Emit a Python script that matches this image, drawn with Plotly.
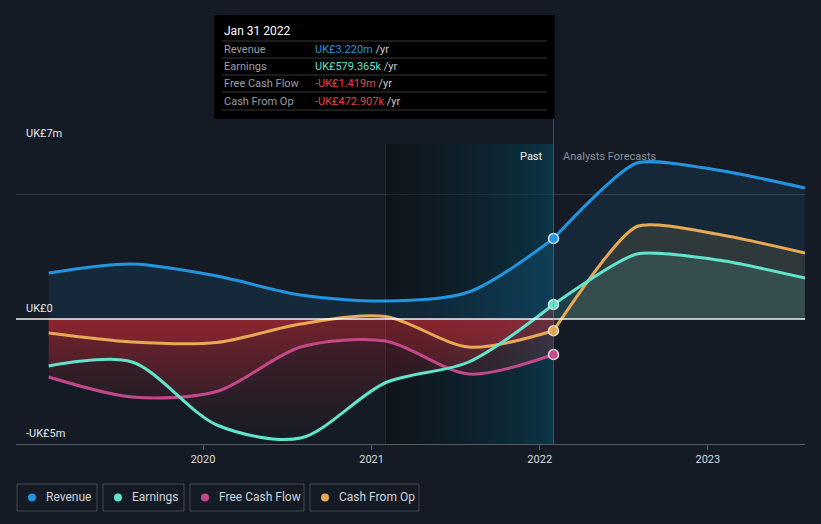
import plotly.graph_objects as go

# ---------------- data (UK£ millions) ----------------
dates_past = ["2019-01-31", "2019-07-31", "2020-01-31", "2020-07-31",
              "2021-01-31", "2021-07-31", "2022-01-31"]
dates_fc = ["2022-01-31", "2022-07-31", "2023-01-31", "2023-07-31"]

revenue_past = [1.84, 2.20, 1.72, 0.96, 0.72, 1.08, 3.22]
revenue_fc = [3.22, 6.24, 5.93, 5.24]
earnings_past = [-1.88, -1.72, -4.24, -4.76, -2.55, -1.72, 0.58]
earnings_fc = [0.58, 2.60, 2.34, 1.64]
fcf_past = [-2.32, -3.12, -2.90, -1.12, -0.88, -2.20, -1.42]
cfo_past = [-0.56, -0.92, -0.94, -0.20, 0.10, -1.12, -0.47]
cfo_fc = [-0.47, 3.70, 3.36, 2.64]

x_ticks = ["2020-01-01", "2021-01-01", "2022-01-01", "2023-01-01"]
x_tick_labels = ["2020", "2021", "2022", "2023"]
y_tick_labels = {7: "UK£7m", 0: "UK£0", -5: "-UK£5m"}

tooltip_date = "Jan 31 2022"
tooltip_rows = [("Revenue", "UK£3.220m", "#2394df"),
                ("Earnings", "UK£579.365k", "#5fe3c9"),
                ("Free Cash Flow", "-UK£1.419m", "#e8404a"),
                ("Cash From Op", "-UK£472.907k", "#e8404a")]

legend_names = ["Revenue", "Earnings", "Free Cash Flow", "Cash From Op"]

past_start = "2021-01-31"
past_end = "2022-01-31"

C_REV = "#2394df"
C_EARN = "#62e3cb"
C_FCF = "#c2488b"
C_CFO = "#e8a955"
BG = "#151b24"
SMOOTH_PAST = 0.85
SMOOTH_FC = 0.6

W, H = 821, 524
L, R, T, B = 16, 16, 144, 80


def px(x):
    return (x - L) / (W - L - R)


def py(y):
    return (H - B - y) / (H - T - B)


fig = go.Figure()

# past highlight band (gradient)
fig.add_trace(go.Scatter(
    x=[past_start, past_end, past_end, past_start, past_start],
    y=[-5, -5, 7, 7, -5], mode="none", fill="toself",
    fillgradient=dict(type="horizontal",
                      colorscale=[[0, "rgba(8,12,16,0.4)"], [1, "rgba(8,62,82,0.75)"]]),
    hoverinfo="skip", showlegend=False))

red_grad = dict(type="vertical", start=0, stop=-5,
                colorscale=[[0, "rgba(210,42,52,0.28)"], [1, "rgba(210,42,52,0.0)"]])


def add_fill(x, y, sm, **kw):
    fig.add_trace(go.Scatter(x=x, y=y, mode="none", fill="tozeroy",
                             line=dict(shape="spline", smoothing=sm),
                             hoverinfo="skip", showlegend=False, **kw))


add_fill(dates_past, revenue_past, SMOOTH_PAST, fillcolor="rgba(35,148,223,0.12)")
add_fill(dates_fc, revenue_fc, SMOOTH_FC, fillcolor="rgba(35,148,223,0.11)")
for ys in (earnings_past, fcf_past, cfo_past):
    add_fill(dates_past, ys, SMOOTH_PAST, fillgradient=red_grad)
add_fill(dates_fc, cfo_fc, SMOOTH_FC, fillcolor="rgba(232,169,85,0.12)")
add_fill(dates_fc, earnings_fc, SMOOTH_FC, fillcolor="rgba(98,227,203,0.12)")


def add_line(x, y, c, sm):
    fig.add_trace(go.Scatter(x=x, y=y, mode="lines",
                             line=dict(color=c, width=3, shape="spline", smoothing=sm),
                             hoverinfo="skip", showlegend=False))


add_line(dates_past, cfo_past, C_CFO, SMOOTH_PAST)
add_line(dates_fc, cfo_fc, C_CFO, SMOOTH_FC)
add_line(dates_past, fcf_past, C_FCF, SMOOTH_PAST)
add_line(dates_past, earnings_past, C_EARN, SMOOTH_PAST)
add_line(dates_fc, earnings_fc, C_EARN, SMOOTH_FC)
add_line(dates_past, revenue_past, C_REV, SMOOTH_PAST)
add_line(dates_fc, revenue_fc, C_REV, SMOOTH_FC)

# markers at the tooltip date
for ys, c in ((revenue_past, C_REV), (earnings_past, C_EARN),
              (fcf_past, C_FCF), (cfo_past, C_CFO)):
    fig.add_trace(go.Scatter(x=[dates_past[-1]], y=[ys[-1]], mode="markers",
                             marker=dict(size=10, color=c,
                                         line=dict(color="rgba(235,235,240,0.9)", width=1.5)),
                             hoverinfo="skip", showlegend=False))

shapes = []
annotations = []

# faint line at band start
shapes.append(dict(type="line", xref="x", yref="paper", x0=past_start, x1=past_start,
                   y0=0, y1=1, line=dict(color="rgba(255,255,255,0.07)", width=1)))
# zero line
shapes.append(dict(type="line", xref="paper", yref="y", x0=0, x1=1, y0=0, y1=0,
                   line=dict(color="rgba(255,255,255,0.95)", width=1.5), layer="above"))
# tooltip vertical line
shapes.append(dict(type="line", xref="x", yref="paper", x0=past_end, x1=past_end,
                   y0=0, y1=py(119), line=dict(color="rgba(90,150,170,0.45)", width=1)))
# tooltip box
shapes.append(dict(type="rect", xref="paper", yref="paper", x0=px(214), x1=px(555),
                   y0=py(119), y1=py(15), fillcolor="#000000", line=dict(width=0)))
for yy in (41, 58, 75, 92, 110):
    shapes.append(dict(type="line", xref="paper", yref="paper", x0=px(222), x1=px(547),
                       y0=py(yy), y1=py(yy), line=dict(color="rgba(255,255,255,0.22)", width=1)))

annotations.append(dict(x=px(222), y=py(31), xref="paper", yref="paper", text=tooltip_date,
                        showarrow=False, xanchor="left", yanchor="middle",
                        font=dict(size=12, color="#ffffff")))
for i, (lab, val, col) in enumerate(tooltip_rows):
    yy = [49, 66, 83, 101][i]
    annotations.append(dict(x=px(222), y=py(yy), xref="paper", yref="paper", text=lab,
                            showarrow=False, xanchor="left", yanchor="middle",
                            font=dict(size=11, color="#9a9da3")))
    annotations.append(dict(x=px(313), y=py(yy), xref="paper", yref="paper",
                            text=f'<span style="color:{col}">{val}</span> /yr',
                            showarrow=False, xanchor="left", yanchor="middle",
                            font=dict(size=11, color="#c9ccd1")))

# y labels
for v, t in y_tick_labels.items():
    annotations.append(dict(x=px(24), y=v, xref="paper", yref="y", text=t, showarrow=False,
                            xanchor="left", yanchor="bottom", yshift=2,
                            font=dict(size=11, color="#e6e8eb")))

# Past / forecast labels
annotations.append(dict(x=px(545), y=py(156), xref="paper", yref="paper", text="Past",
                        showarrow=False, xanchor="right", yanchor="middle",
                        font=dict(size=11, color="#f0f0f0")))
annotations.append(dict(x=px(561), y=py(156), xref="paper", yref="paper",
                        text="Analysts Forecasts", showarrow=False, xanchor="left",
                        yanchor="middle", font=dict(size=11, color="#8a8e94")))

# custom legend
boxes = [(17, 97), (103, 184), (190, 304), (310, 419)]
for (x0, x1), name, c in zip(boxes, legend_names, (C_REV, C_EARN, C_FCF, C_CFO)):
    shapes.append(dict(type="rect", xref="paper", yref="paper", x0=px(x0), x1=px(x1),
                       y0=py(511), y1=py(484), line=dict(color="rgba(255,255,255,0.2)", width=1),
                       fillcolor="rgba(0,0,0,0)"))
    shapes.append(dict(type="circle", xref="paper", yref="paper", x0=px(x0 + 11), x1=px(x0 + 19),
                       y0=py(501.5), y1=py(493.5), fillcolor=c, line=dict(width=0)))
    annotations.append(dict(x=px(x0 + 27), y=py(497.5), xref="paper", yref="paper", text=name,
                            showarrow=False, xanchor="left", yanchor="middle",
                            font=dict(size=12, color="#cfd3d8")))

fig.update_layout(
    width=W, height=H, paper_bgcolor=BG, plot_bgcolor=BG,
    margin=dict(l=L, r=R, t=T, b=B), showlegend=False,
    font=dict(family="Roboto, Open Sans, sans-serif"),
    shapes=shapes, annotations=annotations,
    xaxis=dict(type="date", range=["2018-11-21", "2023-07-31"], tickvals=x_ticks,
               ticktext=x_tick_labels, ticks="outside", ticklen=5,
               tickcolor="rgba(255,255,255,0.3)", showline=True,
               linecolor="rgba(255,255,255,0.28)", linewidth=1, showgrid=False,
               zeroline=False, tickfont=dict(size=11, color="#d7d9dc"), fixedrange=True),
    yaxis=dict(range=[-5, 7], tickvals=[5, 7], showticklabels=False, showgrid=True,
               gridcolor="rgba(255,255,255,0.13)", gridwidth=1, zeroline=False,
               fixedrange=True),
)

fig.write_html("out.html", config={"displayModeBar": False},
               post_script="document.body.style.margin='0';document.body.style.background='%s';" % BG)
